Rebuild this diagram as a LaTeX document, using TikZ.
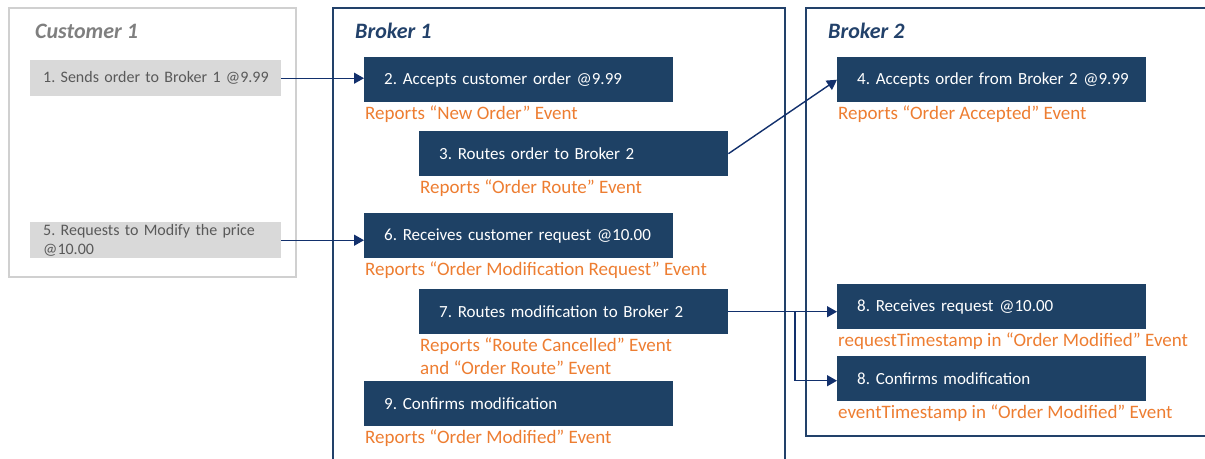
\documentclass[tikz,border=0pt]{standalone}
\usepackage{fontspec}
\setmainfont{Carlito}
\usetikzlibrary{positioning,arrows.meta,calc}
\definecolor{stepblue}{HTML}{1E4165}
\definecolor{framblue}{HTML}{22416A}
\definecolor{arrowblue}{HTML}{12306C}
\definecolor{eventorange}{HTML}{ED7D31}
\definecolor{custgray}{HTML}{7F7F7F}
\definecolor{custframe}{HTML}{D0D0D0}
\definecolor{custfill}{HTML}{D9D9D9}
\definecolor{custtext}{HTML}{595959}
\frenchspacing

\begin{document}
\begin{tikzpicture}[x=1pt,y=-1pt,
    stepbox/.style={fill=stepblue, text=white, anchor=north west,
        minimum height=45pt, inner sep=0pt, text width=309pt, align=left,
        execute at begin node={\leftskip=20pt}, font=\fontsize{17}{20}\selectfont},
    custbox/.style={fill=custfill, text=custtext, anchor=north west,
        minimum height=36pt, inner sep=0pt, text width=251pt, align=left,
        execute at begin node={\leftskip=13pt}, font=\fontsize{16}{19}\selectfont},
    eventlbl/.style={text=eventorange, inner sep=0pt, align=left,
        font=\fontsize{19}{23}\selectfont},
    grouptitle/.style={anchor=west, inner sep=0pt, font=\fontsize{22}{24}\selectfont\bfseries\itshape},
    flow/.style={arrowblue, line width=1.4pt, -{Triangle[length=10pt,width=11pt]}}]
    \clip (0,0) rectangle (1205,458);
    % the three lanes
    \draw[custframe, line width=2pt] (9,8) rectangle (296,277);
    \draw[framblue, line width=2pt] (333,470) -- (333,8) -- (785,8) -- (785,470);
    \draw[framblue, line width=2pt] (806,8) rectangle (1220,436);
    \node[grouptitle, text=custgray] (cust) at (35,31) {Customer 1};
    \node[grouptitle, text=framblue] (brk1) at (355,31) {Broker 1};
    \node[grouptitle, text=framblue] (brk2) at (828,31) {Broker 2};

    % customer
    \node[custbox] (c1) at (30,60) {1. Sends order to Broker 1 @9.99};
    \node[custbox] (c5) at (30,222) {5. Requests to Modify the price\\@10.00};

    % broker 1
    \node[stepbox] (b2) at (364,57) {2. Accepts customer order @9.99};
    \node[eventlbl, below right=3pt and 1pt of b2.south west] (e2) {Reports “New Order” Event};
    \node[stepbox] (b3) at (419,131) {3. Routes order to Broker 2};
    \node[eventlbl, below right=3pt and 1pt of b3.south west] (e3) {Reports “Order Route” Event};
    \node[stepbox] (b6) at (364,213) {6. Receives customer request @10.00};
    \node[eventlbl, below right=3pt and 1pt of b6.south west] (e6) {Reports “Order Modification Request” Event};
    \node[stepbox] (b7) at (419,289) {7. Routes modification to Broker 2};
    \node[eventlbl, below right=3pt and 1pt of b7.south west] (e7) {Reports “Route Cancelled” Event\\and “Order Route” Event};
    \node[stepbox] (b9) at (364,381) {9. Confirms modification};
    \node[eventlbl, below right=3pt and 1pt of b9.south west] (e9) {Reports “Order Modified” Event};

    % broker 2
    \node[stepbox] (b4) at (837,57) {4. Accepts order from Broker 2 @9.99};
    \node[eventlbl, below right=3pt and 1pt of b4.south west] (e4) {Reports “Order Accepted” Event};
    \node[stepbox] (b8a) at (837,284) {8. Receives request @10.00};
    \node[eventlbl, below right=3pt and 1pt of b8a.south west] (e8a) {requestTimestamp in “Order Modified” Event};
    \node[stepbox] (b8b) at (837,356) {8. Confirms modification};
    \node[eventlbl, below right=3pt and 1pt of b8b.south west] (e8b) {eventTimestamp in “Order Modified” Event};

    % messages
    \draw[flow] (c1.east) -- (c1.east -| b2.west);
    \draw[flow] (c5.east) -- (c5.east -| b6.west);
    \draw[flow] (b3.east) -- ($(b4.south west)!0.5!(b4.north west)$);
    \draw[flow] (b7.east) -- (b7.east -| b8a.west);
    \coordinate (split) at ($(b7.east)!0.615!(b7.east -| b8a.west)$);
    \draw[flow] (split) |- ($(b8b.west)+(0,2)$);
\end{tikzpicture}
\end{document}
